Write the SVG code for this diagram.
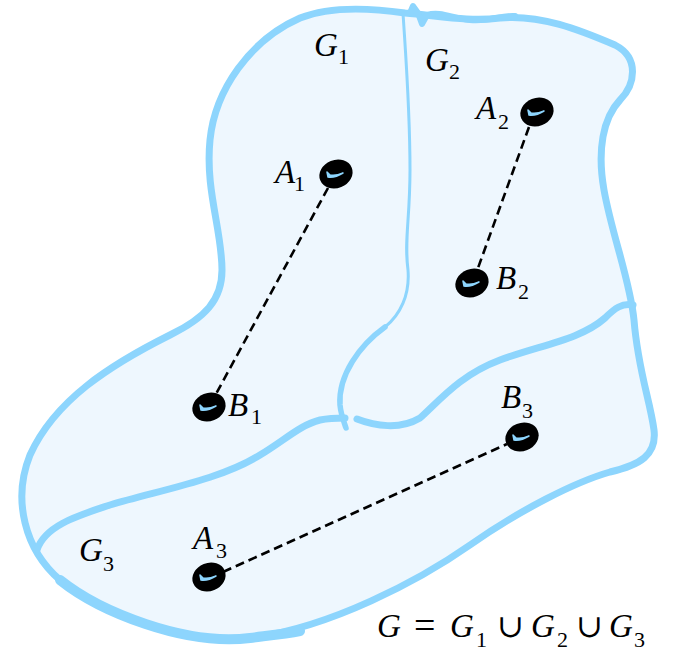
<svg xmlns="http://www.w3.org/2000/svg" xmlns:xlink="http://www.w3.org/1999/xlink" width="678" height="654" viewBox="0 0 678 654">
<style>
.edge{fill:none;stroke:#8DD5FD;stroke-linecap:round;stroke-linejoin:round}
.area{fill:#EEF7FE;stroke:#8DD5FD;stroke-width:7;stroke-linejoin:round}
.lbl{font-family:"Liberation Serif","Times New Roman",serif;font-style:italic;font-size:33px;fill:#000}
.sub{font-family:"Liberation Serif","Times New Roman",serif;font-style:normal;font-size:22px;fill:#000}
.op{font-family:"Liberation Serif","DejaVu Serif",serif;font-style:normal;font-size:38px;fill:#000}
.dash{fill:none;stroke:#000;stroke-width:2.6;stroke-dasharray:9 5}
</style>
<defs>
<g id="blob">
<ellipse cx="0" cy="0" rx="17" ry="14" transform="rotate(-22)" fill="#000"/>
<path d="M-9,-2 L-8,3 Q-1,4 7,-1 Q0,2 -6,1 Z" fill="#8DD5FD" stroke="#8DD5FD" stroke-width="1.5" stroke-linejoin="round"/>
</g>
</defs>
<g id="region">
<path class="area" d="M405 13 C440 16,470 22,500 18 C540 14,580 30,615 45 C640 58,635 85,620 100 C603 118,597 150,604 190 C612 235,630 280,634 320 C638 370,650 400,654 430 C657 455,640 465,610 472 C575 482,520 510,470 545 C420 580,330 628,250 638 C185 646,100 612,60 580 C25 550,12 500,30 455 C55 400,110 365,170 335 C205 318,222 300,222 270 C222 230,205 190,210 140 C215 90,250 40,300 18 C330 6,370 8,405 13 Z"/>
<path d="M300 631 C285 634,265 636,250 638 C185 646,100 612,60 580" class="edge" stroke-width="10"/>
<path d="M410 13 L413 6 L418 13 L422 24 L427 15 C440 11,452 18,470 20 C490 22,500 15,515 16" class="edge" stroke-width="6"/>
<path d="M403 13 C406 60,410 110,410 170 C410 220,404 240,408 270 C410 295,400 315,385 327" class="edge" stroke-width="3"/>
<path d="M385 327 C360 345,338 375,340 405 C341 415,344 422,346 428" class="edge" stroke-width="5.5"/>
<path d="M37 550 C45 525,80 515,110 505 C160 490,220 480,260 455 C285 440,300 425,320 420 C330 418,340 418,345 418" class="edge" stroke-width="7"/>
<path d="M357 419 C375 426,400 430,420 418 C440 400,460 375,500 360 C540 345,580 340,605 318 C615 308,622 303,633 305" class="edge" stroke-width="7"/>
</g>
<g id="connectors">
<line class="dash" x1="328" y1="188" x2="216" y2="394"/>
<line class="dash" x1="529" y1="127" x2="478" y2="268"/>
<line class="dash" x1="223" y1="572" x2="507" y2="444"/>
</g>
<g id="G1"><text class="lbl" x="314" y="56">G</text><text class="sub" x="338" y="64">1</text></g>
<g id="G2"><text class="lbl" x="425" y="71">G</text><text class="sub" x="449" y="79">2</text></g>
<g id="G3"><text class="lbl" x="79" y="561">G</text><text class="sub" x="103" y="571">3</text></g>
<g id="A1"><use xlink:href="#blob" x="336" y="174"/><text class="lbl" x="275" y="183">A</text><text class="sub" x="294" y="191">1</text></g>
<g id="B1"><use xlink:href="#blob" x="209" y="407"/><text class="lbl" x="228" y="416">B</text><text class="sub" x="251" y="424">1</text></g>
<g id="A2"><use xlink:href="#blob" x="537" y="112"/><text class="lbl" x="476" y="119">A</text><text class="sub" x="498" y="129">2</text></g>
<g id="B2"><use xlink:href="#blob" x="472" y="283"/><text class="lbl" x="496" y="289">B</text><text class="sub" x="518" y="299">2</text></g>
<g id="A3"><use xlink:href="#blob" x="209" y="577"/><text class="lbl" x="193" y="549">A</text><text class="sub" x="216" y="558">3</text></g>
<g id="B3"><use xlink:href="#blob" x="522" y="437"/><text class="lbl" x="501" y="408">B</text><text class="sub" x="522" y="418">3</text></g>
<g id="formula">
<text class="lbl" x="377" y="637">G</text>
<text class="op" x="414" y="638">=</text>
<text class="lbl" x="450" y="637">G</text>
<text class="sub" x="476" y="647">1</text>
<text class="op" x="497" y="637" style="font-size:32px">∪</text>
<text class="lbl" x="531" y="637">G</text>
<text class="sub" x="557" y="647">2</text>
<text class="op" x="576" y="637" style="font-size:32px">∪</text>
<text class="lbl" x="609" y="637">G</text>
<text class="sub" x="634" y="647">3</text>
</g>
</svg>
